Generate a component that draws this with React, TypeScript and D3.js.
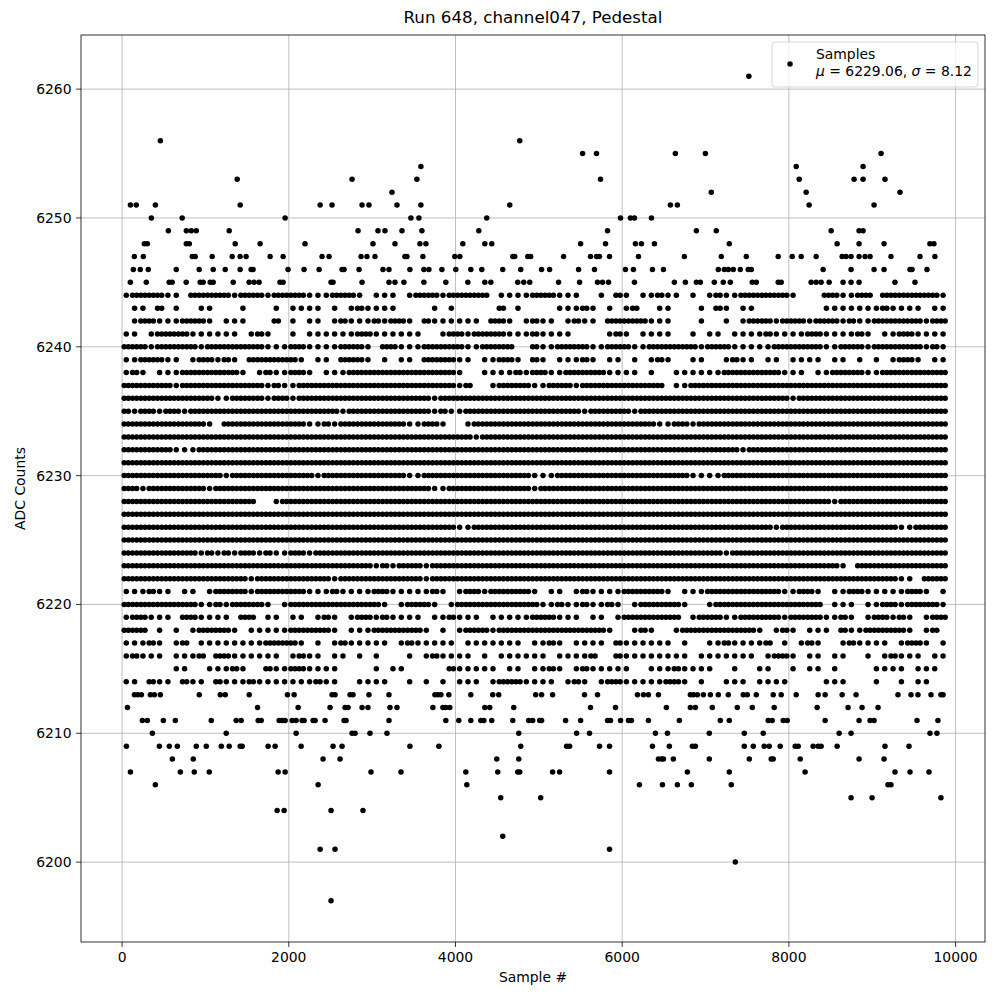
import React, { useEffect, useRef } from 'react';
import * as d3 from 'd3';

const title = 'Run 648, channel047, Pedestal';
const xLabel = 'Sample #';
const yLabel = 'ADC Counts';
const legendName = 'Samples';
const meanText = '6229.06';
const sigmaText = '8.12';

const sampleSpan = [0, 9860];
const xTicks = [0, 2000, 4000, 6000, 8000, 10000];
const yTicks = [6200, 6210, 6220, 6230, 6240, 6250, 6260];

// dense ADC levels: one digit per 100-sample bin (0 = none, 1 = single sample, 2 = run of samples)
// split in four pieces: bins 0-21 | 22-48 | 49-74 | 75-98
const binWidth = 100;
const pieceStarts = [0, 22, 49, 75];
const pieceLengths = [22, 27, 26, 24];
const denseLevels = [6244, 6243, 6242, 6241, 6240, 6239, 6238, 6237, 6236, 6235, 6234, 6233, 6232, 6231, 6230,
  6229, 6228, 6227, 6226, 6225, 6224, 6223, 6222, 6221, 6220, 6219, 6218, 6217, 6216, 6215, 6214];
const denseBins = [
  '1222211022222122212222|111222101110122212222201111|22211100102101121101012112|222221000221122022222221',
  '0110201001100010001011|110101211110000101000002010|00011121010120011000102101|100000000111111121111011',
  '0122111222101110002010|110121112122102111111022101|21101211022222111000100101|222122212221211222222122',
  '1101222211111101210010|111111221111110012212222111|21111000012101111001011011|112111122111121011221111',
  '2221222221222222211122|111122210221112222211222200|21122221122211222222122211|111222222112221222222121',
  '1122211012212102222221|011022210101102222110112210|21011121011010121001100121|101101111011010101221011',
  '1210111222222210121122|101112222222222222100111121|22112222211110100111111222|222211101122221122222222',
  '2222221222222222212112|222222222222222222120012222|11222122222222220112222222|222222222222222222222222',
  '2222222222211222212212|222222222222222122222222222|22222222222222222222222222|222221222222222222222222',
  '2122122122222222222222|222212222222222121122222222|22222212222212222222222222|222222222222222222222222',
  '2222222222102222222222|112122222222112210012222222|22222222222222211221222222|222222222222222222222222',
  '2222222222222222222222|222222222222222222221222222|22222222222222222222222222|222222222222222222222222',
  '2222221112222222222222|222222222222222222222222222|22222222222222222222222221|222222222222222222222222',
  '2222222222222222222222|222222222222222222222222222|22222222222222222222222222|222222222222222222222222',
  '2222222222221222222222|212222222222112222222222222|11122222222222222221111222|222222222222222222222222',
  '2212222222122222222222|222222222222222112222222222|12222222222222222222222222|222222222222222222222222',
  '2222222222222222001222|222222222222222222222222222|22222222222222222222222222|222222222212222222222222',
  '2222222222222222222222|222222222222222222222222222|22222222222222222222222222|222222222222222222222222',
  '2222222222222222222222|222222222222222222112222222|22222222222222222222222222|222122222222222222112222',
  '2222222222222222222222|222222222222222222222222222|22222222222222222222222222|222222222222222222222222',
  '2222222221212122121122|122222222222222222222222222|22222222222222222222222122|222222222222222222222222',
  '2222222222222222222222|222222221212221222222222222|22222222222222222222222222|222222222221022222222222',
  '2222222222222221222222|222122222222221222222222222|22222222222222222222222222|222222222222222222110222',
  '1112110110122221222222|111211112211111210122122222|10110121111222221011122222|222211221011221111122101',
  '2222222221121222210122|222222222101222101222222222|21121121121012222210012222|222222222011101122122221',
  '1221110221111022011011|012101221211110112111011111|22211101101222222201222112|222212222112101221210122',
  '2220101012222101111122|222101112222221010122212222|22222222210012100122222222|210121011102112222210120',
  '1112101201111111122221|010121111101211111011111110|11210111102111111010011211|112010121001211110122101',
  '1211101112022111111012|110110101000101211110101111|11011112002111111110111111|101221011011001012111011',
  '0000001100111210021122|111100001011000002111110110|11210121111100111211110010|011001011010000111101110',
  '1102110211021112111111|121100111100101010111012221|11101210122111112210100111|011110000111000100101100',
];

// sparse ADC levels: sample numbers read one by one
const sparseLevels = [6261, 6256, 6255, 6254, 6253, 6252, 6251, 6250, 6249, 6248, 6247, 6246, 6245,
  6213, 6212, 6211, 6210, 6209, 6208, 6207, 6206, 6205, 6204, 6202, 6201, 6200, 6197];
const sparseSamples = [
  [7520],
  [459, 4771],
  [5525, 5692, 6638, 6998, 9106],
  [3585, 8088, 8890],
  [1381, 2759, 3537, 5740, 8124, 8782, 8890, 9153],
  [3238, 7069, 8207, 9333],
  [100, 170, 399, 1417, 2376, 2519, 2879, 2962, 3298, 3585, 4651, 6578, 6662, 8243, 9022],
  [351, 721, 1956, 3465, 3561, 4375, 5980, 6099, 6147, 6351],
  [555, 771, 830, 890, 1285, 2831, 3070, 3154, 3358, 3597, 4280, 5824, 6890, 7129, 8507, 8842, 8890],
  [267, 303, 770, 806, 1357, 1656, 2195, 3010, 3274, 3573, 3645, 4088, 4352, 4435, 5501, 5800, 6159, 6231,
    6387, 7285, 8579, 8842, 9142, 9692, 9740],
  [147, 255, 842, 878, 1081, 1321, 1416, 1488, 1776, 1932, 2399, 2483, 2867, 2938, 3034, 3393, 3418, 3609,
    3992, 4052, 4687, 4711, 4867, 4902, 5297, 5620, 5692, 5728, 5848, 6195, 6746, 7189, 7489, 7872, 8040,
    8148, 8327, 8639, 8686, 8746, 8842, 8914, 8974, 9225, 9573, 9752],
  [135, 218, 314, 650, 925, 1093, 1237, 1416, 1548, 1572, 1991, 2183, 2364, 2639, 2663, 2843, 3130, 3202,
    3453, 3621, 3681, 3837, 4004, 4184, 4316, 4567, 4783, 5033, 5129, 5477, 5668, 6039, 6135, 6363, 6495,
    7153, 7225, 7273, 7333, 7417, 7512, 7549, 8411, 8746, 9022, 9142, 9453, 9477, 9657],
  [99, 290, 565, 601, 769, 937, 973, 1057, 1093, 1333, 1524, 1584, 1644, 1895, 1931, 2507, 2531, 2879,
    3202, 3274, 3381, 3621, 3884, 4148, 4352, 4424, 4747, 4819, 4891, 5237, 5489, 5704, 5764, 5836, 6147,
    6626, 6758, 6890, 6938, 7105, 7213, 7297, 7561, 7609, 7872, 7908, 8267, 8327, 8387, 8483, 8650, 8746,
    8842, 9273, 9513],
  [148, 188, 232, 339, 387, 459, 926, 1178, 1238, 1525, 1984, 2064, 2519, 2555, 2735, 2771, 2962, 3202,
    3753, 3789, 3825, 3920, 4184, 4447, 4519, 4962, 5033, 5165, 5548, 5704, 6183, 6255, 6315, 6435, 6818,
    6854, 6902, 6974, 7058, 7153, 7273, 7453, 7501, 7609, 7812, 7908, 8088, 8351, 8435, 8639, 8806, 9309,
    9465, 9549, 9705, 9824, 9850],
  [64, 1625, 2112, 2495, 2675, 2711, 2879, 2950, 3214, 3298, 3729, 3849, 3884, 3932, 4352, 4411, 4699,
    5620, 5920, 6530, 6818, 6878, 7081, 7381, 7561, 7824, 8339, 8710, 8878, 9070],
  [243, 303, 495, 639, 1070, 1369, 1429, 1633, 1669, 1884, 1920, 1956, 2040, 2088, 2160, 2184, 2292, 2316,
    2435, 2663, 2687, 3202, 3884, 4040, 4184, 4304, 4340, 4435, 4687, 4878, 4926, 5010, 5033, 5321, 5501,
    5824, 5860, 5980, 6075, 6111, 6315, 6686, 7177, 7285, 7752, 7800, 7932, 7980, 8435, 8842, 8974, 9022,
    9537, 9788],
  [363, 1249, 2088, 2759, 2795, 2974, 3178, 4759, 5453, 5608, 6399, 6543, 7045, 7465, 7692, 8603, 8746,
    9693, 9776],
  [52, 447, 567, 663, 890, 1010, 1190, 1285, 1417, 1441, 1752, 1836, 2148, 2531, 2639, 3453, 3801, 4783,
    5333, 5369, 5728, 5848, 6363, 6566, 6842, 6878, 7465, 7573, 7704, 7764, 7896, 8076, 8112, 8291, 8351,
    8387, 8579, 9153, 9441],
  [603, 854, 2411, 2615, 4495, 4759, 6435, 6471, 6495, 6614, 7045, 7525, 7788, 7812, 8136, 8842, 9142],
  [100, 699, 866, 1046, 1872, 1956, 2986, 3346, 4124, 4507, 4747, 4771, 5165, 5249, 5848, 6782, 7285,
    8195, 9273, 9453, 9681],
  [399, 2352, 4136, 6207, 6483, 6662, 6830, 7309, 9189, 9225],
  [4543, 5022, 8746, 8998, 9824],
  [1860, 1944, 2507, 2890],
  [4567],
  [2376, 2555, 5848],
  [7357],
  [2507],
];

const W = 1000;
const H = 1000;
const plot = { left: 81, right: 985, top: 35, bottom: 942 };
const font = 'DejaVu Sans, sans-serif';

export default function App() {
  const ref = useRef(null);

  useEffect(() => {
    const el = ref.current;
    if (!el) return;
    el.innerHTML = '';

    const points: [number, number][] = [];
    denseLevels.forEach((level, i) => {
      denseBins[i].split('|').forEach((piece, k) => {
        const len = pieceLengths[k];
        const s = piece.padEnd(len, piece[piece.length - 1]).slice(0, len);
        for (let j = 0; j < s.length; j++) {
          const start = (pieceStarts[k] + j) * binWidth;
          const d = +s[j];
          if (d === 1) points.push([start + binWidth / 2, level]);
          if (d === 2) {
            points.push([start + binWidth / 4, level]);
            points.push([start + (3 * binWidth) / 4, level]);
          }
        }
      });
    });
    sparseLevels.forEach((level, i) => {
      sparseSamples[i].forEach(s => points.push([s, level]));
    });

    const spanX = sampleSpan[1] - sampleSpan[0];
    const x = d3.scaleLinear()
      .domain([sampleSpan[0] - 0.05 * spanX, sampleSpan[1] + 0.05 * spanX])
      .range([plot.left, plot.right]);
    const [yMin, yMax] = d3.extent(points, d => d[1]) as [number, number];
    const spanY = yMax - yMin;
    const y = d3.scaleLinear()
      .domain([yMin - 0.05 * spanY, yMax + 0.05 * spanY])
      .range([plot.bottom, plot.top]);

    const svg = d3.select(el).append('svg')
      .attr('width', W)
      .attr('height', H)
      .style('display', 'block')
      .style('background', '#fff')
      .attr('font-family', font);

    // grid
    const grid = svg.append('g').attr('stroke', '#b0b0b0').attr('stroke-width', 0.8);
    grid.selectAll('line.gx').data(xTicks).join('line')
      .attr('class', 'gx')
      .attr('x1', d => x(d)).attr('x2', d => x(d))
      .attr('y1', plot.top).attr('y2', plot.bottom);
    grid.selectAll('line.gy').data(yTicks).join('line')
      .attr('class', 'gy')
      .attr('x1', plot.left).attr('x2', plot.right)
      .attr('y1', d => y(d)).attr('y2', d => y(d));

    // samples
    svg.append('g').attr('fill', '#000')
      .selectAll('circle')
      .data(points)
      .join('circle')
      .attr('cx', d => x(d[0]))
      .attr('cy', d => y(d[1]))
      .attr('r', 2.75);

    // frame
    svg.append('rect')
      .attr('x', plot.left).attr('y', plot.top)
      .attr('width', plot.right - plot.left).attr('height', plot.bottom - plot.top)
      .attr('fill', 'none').attr('stroke', '#000').attr('stroke-width', 0.8);

    // x ticks
    const xt = svg.append('g');
    xt.selectAll('line').data(xTicks).join('line')
      .attr('x1', d => x(d)).attr('x2', d => x(d))
      .attr('y1', plot.bottom).attr('y2', plot.bottom + 4.9)
      .attr('stroke', '#000').attr('stroke-width', 0.8);
    xt.selectAll('text').data(xTicks).join('text')
      .attr('x', d => x(d)).attr('y', 962)
      .attr('text-anchor', 'middle').attr('font-size', 13.9)
      .text(d => String(d));

    // y ticks
    const yt = svg.append('g');
    yt.selectAll('line').data(yTicks).join('line')
      .attr('x1', plot.left - 4.9).attr('x2', plot.left)
      .attr('y1', d => y(d)).attr('y2', d => y(d))
      .attr('stroke', '#000').attr('stroke-width', 0.8);
    yt.selectAll('text').data(yTicks).join('text')
      .attr('x', 71.5).attr('y', d => y(d))
      .attr('dy', '0.36em')
      .attr('text-anchor', 'end').attr('font-size', 13.9)
      .text(d => String(d));

    // labels
    svg.append('text')
      .attr('x', (plot.left + plot.right) / 2).attr('y', 23)
      .attr('text-anchor', 'middle').attr('font-size', 16.7)
      .text(title);
    svg.append('text')
      .attr('x', (plot.left + plot.right) / 2).attr('y', 982)
      .attr('text-anchor', 'middle').attr('font-size', 13.9)
      .text(xLabel);
    svg.append('text')
      .attr('transform', `translate(25,${(plot.top + plot.bottom) / 2}) rotate(-90)`)
      .attr('text-anchor', 'middle').attr('font-size', 13.9)
      .text(yLabel);

    // legend
    const lg = svg.append('g');
    lg.append('rect')
      .attr('x', 772).attr('y', 42).attr('width', 206).attr('height', 45)
      .attr('rx', 3)
      .attr('fill', '#fff').attr('fill-opacity', 0.8)
      .attr('stroke', '#cccccc').attr('stroke-width', 0.8);
    lg.append('circle').attr('cx', 790).attr('cy', 64).attr('r', 2.75).attr('fill', '#000');
    lg.append('text').attr('x', 816).attr('y', 59).attr('font-size', 13.9).text(legendName);
    const stat = lg.append('text').attr('x', 816).attr('y', 76).attr('font-size', 13.9);
    stat.append('tspan').attr('font-style', 'italic').text('μ');
    stat.append('tspan').text(` = ${meanText}, `);
    stat.append('tspan').attr('font-style', 'italic').text('σ');
    stat.append('tspan').text(` = ${sigmaText}`);
  }, []);

  return <div ref={ref} style={{ width: W, height: H, position: 'absolute', left: 0, top: 0 }} />;
}
